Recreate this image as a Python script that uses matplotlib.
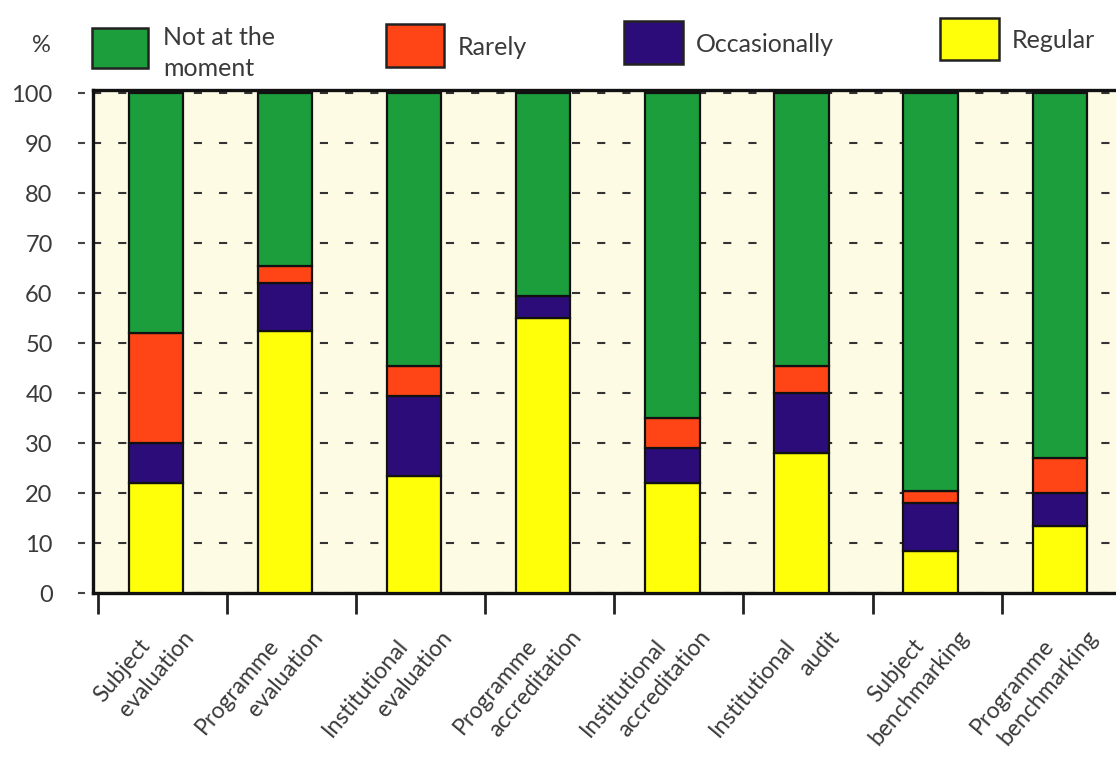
import matplotlib.pyplot as plt
from matplotlib.patches import Rectangle
import numpy as np

plt.rcParams['font.family'] = ['Lato', 'DejaVu Sans']

# category labels, split over two lines as in the original
label_top = ['Subject', 'Programme', 'Institutional', 'Programme',
             'Institutional', 'Institutional', 'Subject', 'Programme']
label_bottom = ['evaluation', 'evaluation', 'evaluation', 'accreditation',
                'accreditation', 'audit', 'benchmarking', 'benchmarking']

# share of respondents (%) per answer, stacked bottom to top
regular = [22, 52.5, 23.5, 55, 22, 28, 8.5, 13.5]
occasionally = [8, 9.5, 16, 4.5, 7, 12, 9.5, 6.5]
rarely = [22, 3.5, 6, 0, 6, 5.5, 2.5, 7]
not_at_moment = [48, 34.5, 54.5, 40.5, 65, 54.5, 79.5, 73]

series_names = ['Not at the\nmoment', 'Rarely', 'Occasionally', 'Regular']
colors = {'Regular': '#ffff0a', 'Occasionally': '#2c0c78',
          'Rarely': '#ff4516', 'Not at the\nmoment': '#1c9e3c'}

W, H = 1116, 760
text_col = '#3a3a3a'
cream = '#fdfbe4'

fig = plt.figure(figsize=(W / 100, H / 100), dpi=100)
ax = fig.add_axes([93 / W, (H - 593) / H, (W - 93) / W, (593 - 90) / H])
ax.set_facecolor(cream)

x = np.arange(len(label_top))
width = 0.42
bottom = np.zeros(len(x))
for name, vals in [('Regular', regular), ('Occasionally', occasionally),
                   ('Rarely', rarely), ('Not at the\nmoment', not_at_moment)]:
    ax.bar(x, vals, width, bottom=bottom, color=colors[name],
           edgecolor='#111111', linewidth=1.6, zorder=3)
    bottom += np.array(vals)

ax.set_xlim(-0.488, 7.436)
ax.set_ylim(0, 100.6)
yticks = np.arange(0, 101, 10)
ax.set_yticks(yticks)
ax.tick_params(axis='y', length=0, pad=29, labelsize=17, labelcolor=text_col)

# short dashes left of the axis, detached from it
ax.hlines(yticks, -0.0147, -0.0078, transform=ax.get_yaxis_transform(),
          color='#444444', lw=1.5, clip_on=False)

# dashed guide lines between the bars
ax.set_axisbelow(True)
ax.yaxis.grid(True, linestyle=(0, (3.9, 8.2)), color='#333333', lw=1.5)

ax.set_xticks(x - 0.45)
ax.set_xticklabels([])
ax.tick_params(axis='x', length=15, width=2, direction='out', color='#222222')

for side in ['left', 'bottom', 'top']:
    ax.spines[side].set_linewidth(2.4)
    ax.spines[side].set_color('#111111')
ax.spines['right'].set_visible(False)

# rotated two-line category labels
tr = ax.get_xaxis_transform()
for i in range(len(x)):
    ax.text(i + 0.201, -0.0676, label_bottom[i], transform=tr, rotation=50,
            rotation_mode='anchor', ha='right', va='top', fontsize=16.5,
            color=text_col)
    ax.text(i - 0.140, -0.0835, label_top[i], transform=tr, rotation=50,
            rotation_mode='anchor', ha='right', va='top', fontsize=16.5,
            color=text_col)

fig.text(32 / W, 1 - 46 / H, '%', fontsize=17, color=text_col, va='center')

# legend boxes along the top
legend_boxes = [(92, 28, 56, 40), (386, 24, 58, 43), (624, 21, 59, 43),
                (940, 18, 59, 42)]
legend_text_x = [163, 458, 696, 1012]
for name, (bx, by, bw, bh), tx in zip(series_names, legend_boxes, legend_text_x):
    fig.add_artist(Rectangle((bx / W, 1 - (by + bh) / H), bw / W, bh / H,
                             transform=fig.transFigure, facecolor=colors[name],
                             edgecolor='#222222', lw=1.8))
    if '\n' in name:
        fig.text(tx / W, 1 - 53 / H, name, fontsize=18, color=text_col,
                 va='center', linespacing=1.45)
    else:
        fig.text(tx / W, 1 - (by + bh / 2 + 2) / H, name, fontsize=18,
                 color=text_col, va='center')

fig.savefig('out.png', dpi=100, facecolor='white')
